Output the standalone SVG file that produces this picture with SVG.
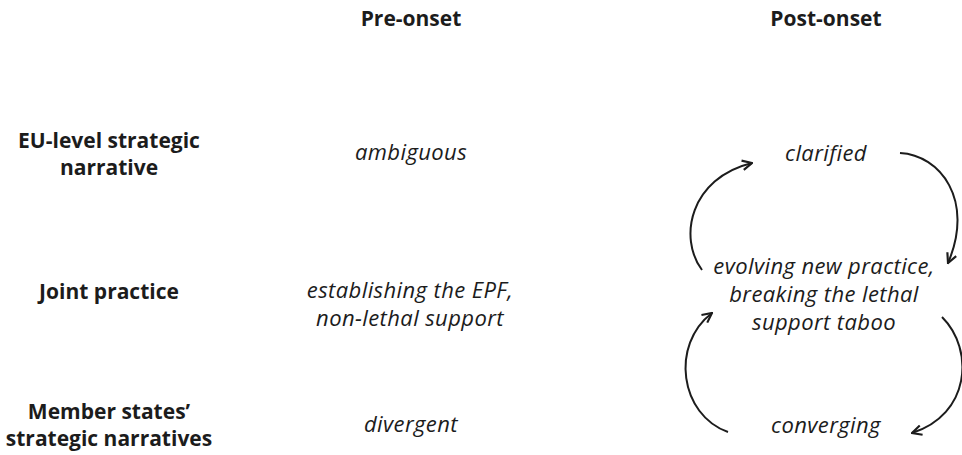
<svg xmlns="http://www.w3.org/2000/svg" width="962" height="455" viewBox="0 0 962 455">
<style>
text{font-family:"Open Sans","Noto Sans",sans-serif;fill:#1c1c1c;text-anchor:middle}
.h{font-weight:bold;font-size:21px}
.i{font-style:italic;font-size:22px;letter-spacing:0.4px}
.c{fill:none;stroke:#1c1c1c;stroke-width:2;marker-end:url(#ah)}
</style>
<defs>
<marker id="ah" viewBox="0 0 10 10" refX="9" refY="5" markerWidth="12" markerHeight="12" markerUnits="userSpaceOnUse" orient="auto">
<path d="M1,1 L9,5 L1,9" fill="none" stroke="#1c1c1c" stroke-width="1.8"/>
</marker>
</defs>
<rect width="962" height="455" fill="#fff"/>
<g id="col-pre"><text class="h" x="411" y="26">Pre-onset</text></g>
<g id="col-post"><text class="h" x="826" y="26">Post-onset</text></g>
<g id="row-eu"><text class="h" x="109" y="148">EU-level strategic</text><text class="h" x="109" y="175">narrative</text></g>
<g id="row-joint"><text class="h" x="109" y="299">Joint practice</text></g>
<g id="row-ms"><text class="h" x="109" y="419">Member states’</text><text class="h" x="109" y="446">strategic narratives</text></g>
<g id="pre-eu"><text class="i" x="411" y="160">ambiguous</text></g>
<g id="pre-joint"><text class="i" x="410" y="298">establishing the EPF,</text><text class="i" x="410" y="326">non-lethal support</text></g>
<g id="pre-ms"><text class="i" x="411" y="432">divergent</text></g>
<g id="post-eu"><text class="i" x="826" y="161">clarified</text></g>
<g id="post-joint"><text class="i" x="824" y="274">evolving new practice,</text><text class="i" x="824" y="302">breaking  the lethal</text><text class="i" x="824" y="330">support taboo</text></g>
<g id="post-ms"><text class="i" x="826" y="433">converging</text></g>
<g id="connectors">
<path class="c" d="M702,270 C678,238 690,178 752,163"/>
<path class="c" d="M900,153 C940,155 975,200 948,263"/>
<path class="c" d="M728,432 C680,415 670,345 712,313"/>
<path class="c" d="M942,317 C975,350 970,415 912,433"/>
</g>
</svg>
